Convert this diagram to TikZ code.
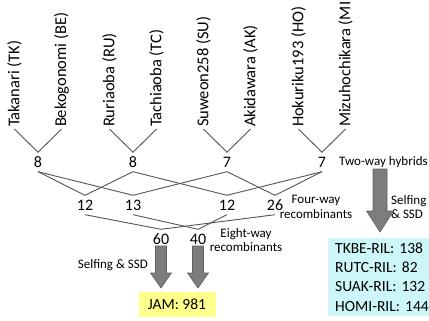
\documentclass[tikz,border=0pt]{standalone}
\usepackage{fontspec}
\setmainfont{Carlito}
\definecolor{lncol}{RGB}{85,85,85}
\definecolor{arrfill}{RGB}{125,125,125}
\definecolor{arrdraw}{RGB}{95,95,95}
\definecolor{jamyellow}{RGB}{255,255,140}
\definecolor{rilcyan}{RGB}{204,246,248}
\begin{document}
\begin{tikzpicture}[x=1pt,y=-1pt,
  parent/.style={rotate=90,anchor=west,inner sep=0pt,outer sep=2pt,font=\fontsize{16.5}{18}\selectfont},
  num/.style={inner sep=0pt,minimum height=19pt,font=\fontsize{16}{18}\selectfont},
  ln/.style={draw=lncol,line width=0.9pt},
  note/.style={inner sep=0pt,font=\fontsize{13}{14.5}\selectfont},
  barrow/.style={fill=arrfill,draw=arrdraw,line width=0.6pt,line join=miter}
]
\clip (0,0) rectangle (429,321);
\fill[white] (0,0) rectangle (429,321);

% parents
\node[parent] (tk) at (14.5,129) {Takanari (TK)};
\node[parent] (be) at (61.5,129) {Bekogonomi (BE)};
\node[parent] (ru) at (109.5,129) {Ruriaoba (RU)};
\node[parent] (tc) at (156.5,129) {Tachiaoba (TC)};
\node[parent] (su) at (203.5,129) {Suweon258 (SU)};
\node[parent] (ak) at (250.5,129) {Akidawara (AK)};
\node[parent] (ho) at (298.5,129) {Hokuriku193 (HO)};
\node[parent] (mi) at (345.5,129) {Mizuhochikara (MI)};

% two-way
\node[num] (tkbe) at (38,162) {8};
\node[num] (rutc) at (133,162) {8};
\node[num] (suak) at (227,162) {7};
\node[num] (homi) at (322,162) {7};

% four-way
\node[num] (fa) at (85,205) {12};
\node[num] (fb) at (133,205) {13};
\node[num] (fc) at (227,205) {12};
\node[num] (fd) at (275,205) {26};

% eight-way
\node[num] (ea) at (161,239) {60};
\node[num] (eb) at (198,239) {40};

\draw[ln] (tk.west) -- (tkbe.north) -- (be.west);
\draw[ln] (ru.west) -- (rutc.north) -- (tc.west);
\draw[ln] (su.west) -- (suak.north) -- (ak.west);
\draw[ln] (ho.west) -- (homi.north) -- (mi.west);

\draw[ln] (tkbe.south) -- (fa.north) -- (rutc.south);
\draw[ln] (tkbe.south) -- (fb.north) -- (suak.south);
\draw[ln] (rutc.south) -- (fc.north) -- (homi.south);
\draw[ln] (suak.south) -- (fd.north) -- (homi.south);

\draw[ln] (fa.south) -- (ea.north) -- (fd.south);
\draw[ln] (fb.south) -- (eb.north) -- (fc.south);

% texts
\node[note,anchor=west] (twoway) at (339,162) {Two-way hybrids};
\node[note,align=center] (fourway) at (316,207) {Four-way\\recombinants};
\node[note,align=center] (eightway) at (246,240) {Eight-way\\recombinants};
\node[note,align=left,anchor=west] (selfr) at (391,207) {Selfing\\\& SSD};
\node[note,anchor=east] (selfl) at (148,265) {Selfing \& SSD};

% block arrows
\coordinate (a1) at (161,246);
\coordinate (a2) at (198,246);
\coordinate (a3) at (380,169);
\draw[barrow] (a1) ++(-5.5,0) -- ++(0,27) -- ++(-5,0) -- ++(10.5,15) -- ++(10.5,-15) -- ++(-5,0) -- ++(0,-27) -- cycle;
\draw[barrow] (a2) ++(-5.5,0) -- ++(0,27) -- ++(-5,0) -- ++(10.5,15) -- ++(10.5,-15) -- ++(-5,0) -- ++(0,-27) -- cycle;
\draw[barrow] (a3) ++(-7,0) -- ++(0,42) -- ++(-6.5,0) -- ++(13.5,21) -- ++(13.5,-21) -- ++(-6.5,0) -- ++(0,-42) -- cycle;

% result boxes
\node[fill=jamyellow,minimum width=77pt,minimum height=25pt,inner sep=0pt,font=\fontsize{15.5}{18}\selectfont] (jam) at (177,304) {JAM: 981};
\node[fill=rilcyan,anchor=north west,text width=95pt,inner xsep=7pt,inner ysep=4.5pt,align=left,font=\fontsize{15.5}{19.3}\selectfont] (ril) at (328,238) {TKBE-RIL: 138\\RUTC-RIL: 82\\SUAK-RIL: 132\\HOMI-RIL: 144};
\end{tikzpicture}
\end{document}
